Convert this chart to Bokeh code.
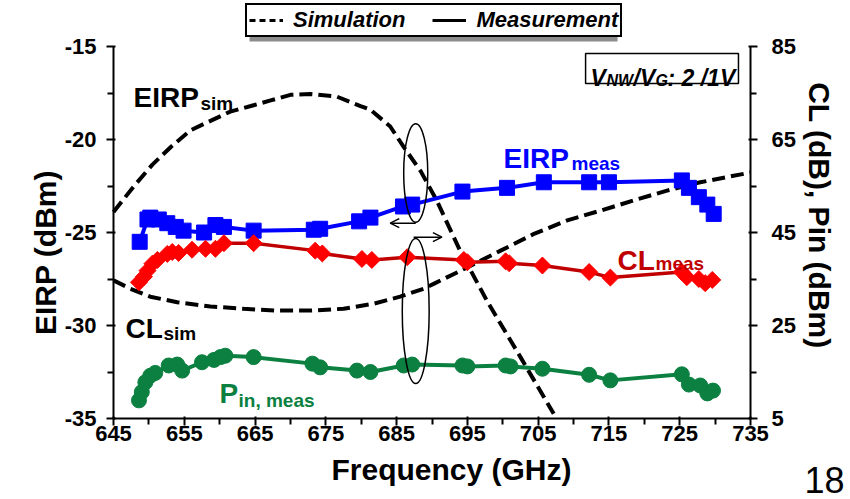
import math
from bokeh.plotting import figure
from bokeh.models import (Range1d, LinearAxis, FixedTicker, Label, Legend, LegendItem,
                          Arrow, OpenHead, BoxAnnotation)
from bokeh.embed import file_html
from bokeh.resources import INLINE

# ---------------- data ----------------
x_ticks = [645, 655, 665, 675, 685, 695, 705, 715, 725, 735]
x_minor = [650, 660, 670, 680, 690, 700, 710, 720, 730]
left_ticks = [-35, -30, -25, -20, -15]
left_tick_labels = ["-35", "-30", "-25", "-20", "-15"]
left_minor = [-32.5, -27.5, -22.5, -17.5]
right_ticks = [5, 25, 45, 65, 85]
right_minor = [15, 35, 55, 75]

eirp_meas_f = [648.7, 649.8, 650.2, 651.4, 652.6, 653.8, 654.9, 657.8, 659.4, 660.6, 664.8,
               673.3, 674.2, 679.7, 681.3, 685.9, 687.2, 694.3, 700.6, 705.8, 712.2, 715.0,
               725.3, 726.3, 727.7, 728.9, 729.8]
eirp_meas = [-25.5, -24.3, -24.2, -24.3, -24.5, -24.7, -24.9, -25.0, -24.6, -24.7, -24.9,
             -24.85, -24.8, -24.4, -24.2, -23.6, -23.5, -22.8, -22.6, -22.3, -22.3, -22.3,
             -22.2, -22.6, -23.1, -23.5, -24.0]

cl_meas_f = [648.6, 649.3, 649.8, 650.5, 651.2, 652.6, 653.3, 654.2, 656.1, 658.0, 659.4,
             660.6, 664.8, 673.5, 674.5, 680.1, 681.5, 686.5, 694.5, 695.0, 700.4, 700.9,
             705.6, 712.2, 715.2, 725.3, 726.0, 727.7, 728.6, 729.6]
cl_meas = [34.3, 35.5, 36.8, 38.3, 39.1, 40.4, 40.8, 40.6, 41.3, 41.5, 41.5,
           42.7, 42.7, 41.1, 40.5, 39.3, 39.1, 39.7, 39.1, 38.6, 38.8, 38.4,
           37.9, 36.5, 35.3, 36.5, 35.4, 35.0, 34.1, 34.8]

pin_meas_f = [648.6, 649.0, 649.5, 650.2, 650.9, 652.8, 654.0, 654.7, 657.5, 659.2, 660.1,
              660.8, 664.8, 673.1, 674.2, 679.4, 681.3, 686.0, 687.2, 694.3, 695.0, 700.4,
              701.1, 705.6, 712.2, 715.2, 725.3, 726.3, 727.9, 728.9, 729.7]
pin_meas = [8.9, 10.7, 12.8, 14.2, 14.8, 16.4, 16.6, 15.3, 17.1, 17.6, 18.2,
            18.5, 18.2, 16.8, 16.0, 15.3, 15.0, 16.4, 16.6, 16.4, 16.2, 16.4,
            16.2, 15.7, 14.4, 13.2, 14.5, 12.3, 12.1, 10.4, 11.0]

eirp_sim_f = [645.0, 647.9, 650.5, 653.1, 655.9, 658.7, 661.5, 664.4, 667.2, 670.0, 672.8,
              676.6, 679.9, 681.3, 684.1, 686.0, 688.4, 690.7, 692.4, 694.0, 697.8, 702.5, 707.2]
eirp_sim = [-23.9, -22.5, -21.35, -20.4, -19.5, -19.0, -18.5, -18.2, -17.9, -17.6, -17.55,
            -17.7, -18.2, -18.4, -19.3, -20.4, -21.7, -23.3, -24.7, -26.0, -28.7, -31.7, -34.75]

cl_sim_f = [645.0, 647.4, 650.2, 654.0, 658.7, 663.4, 668.1, 672.8, 677.5, 681.8, 685.5,
            688.8, 690.3, 695.0, 699.7, 704.4, 709.1, 713.8, 718.5, 723.2, 727.9, 735.0]
cl_sim = [34.7, 32.9, 31.2, 30.0, 29.1, 28.6, 28.2, 28.2, 28.6, 29.7, 31.2,
          32.9, 34.0, 37.5, 41.1, 44.7, 47.6, 49.7, 51.9, 54.0, 55.8, 57.9]

# ---------------- styles ----------------
FONT = "Liberation Sans"
BLUE = "#0000FF"
RED_M = "#FF0000"
RED_L = "#C00000"
GREEN = "#0B8040"
W, H = 850, 499
# axes box in page pixels: x 113..750 <-> 645..735, y 46..418 <-> top..bottom
PX_L, PX_R, PY_T, PY_B = 113, 750, 46, 418


def extend(lo, hi, p_lo, p_hi, size):
    """Range spanning the whole canvas such that [lo, hi] falls on pixels [p_lo, p_hi]."""
    k = (hi - lo) / (p_hi - p_lo)
    return lo - p_lo * k, hi + (size - p_hi) * k


xr = extend(645, 735, PX_L, PX_R, W)
yl = extend(-35, -15, H - PY_B, H - PY_T, H)
yr = extend(5, 85, H - PY_B, H - PY_T, H)

p = figure(width=W, height=H, x_range=Range1d(*xr), y_range=Range1d(*yl),
           output_backend="svg", toolbar_location=None,
           min_border_left=0, min_border_right=0, min_border_top=0, min_border_bottom=0)
p.extra_y_ranges = {"right": Range1d(*yr)}
p.outline_line_color = None
p.xgrid.visible = False
p.ygrid.visible = False
p.background_fill_color = "white"
p.border_fill_color = "white"

xaxis = p.xaxis[0]
laxis = p.yaxis[0]
raxis = LinearAxis(y_range_name="right")
p.add_layout(raxis, "right")

xaxis.fixed_location = -35
xaxis.bounds = (645, 735)
laxis.fixed_location = 645
laxis.bounds = (-35, -15)
raxis.fixed_location = 735
raxis.bounds = (5, 85)

xaxis.ticker = FixedTicker(ticks=x_ticks, minor_ticks=x_minor)
laxis.ticker = FixedTicker(ticks=left_ticks, minor_ticks=left_minor)
laxis.major_label_overrides = dict(zip(left_ticks, left_tick_labels))
raxis.ticker = FixedTicker(ticks=right_ticks, minor_ticks=right_minor)

for ax in [xaxis, laxis, raxis]:
    ax.axis_line_color = "black"
    ax.axis_line_width = 2
    ax.major_tick_line_color = "black"
    ax.major_tick_line_width = 2
    ax.minor_tick_line_color = "black"
    ax.minor_tick_line_width = 2
    ax.major_tick_out = 7
    ax.major_tick_in = 2
    ax.minor_tick_out = 6
    ax.minor_tick_in = 0
    ax.major_label_text_font = FONT
    ax.major_label_text_font_style = "bold"
    ax.major_label_text_font_size = "22px"
    ax.major_label_text_color = "black"
    ax.major_label_standoff = 10
xaxis.major_label_standoff = 0
raxis.major_label_standoff = 14

# ---------------- simulation curves ----------------
p.line(eirp_sim_f, eirp_sim, line_color="black", line_width=4, line_dash="13 6")
p.line(cl_sim_f, cl_sim, line_color="black", line_width=4, line_dash="13 6", y_range_name="right")

# ---------------- measurements ----------------
p.line(eirp_meas_f, eirp_meas, line_color=BLUE, line_width=4)
p.scatter(eirp_meas_f, eirp_meas, marker="square", size=15, fill_color=BLUE, line_color=BLUE)

p.line(cl_meas_f, cl_meas, line_color=RED_L, line_width=3.5, y_range_name="right")
p.scatter(cl_meas_f, cl_meas, marker="square", angle=math.pi / 4, size=12, fill_color=RED_M,
          line_color=RED_M, y_range_name="right")

p.line(pin_meas_f, pin_meas, line_color=GREEN, line_width=4, y_range_name="right")
p.scatter(pin_meas_f, pin_meas, marker="circle", size=15, fill_color=GREEN, line_color=GREEN,
          y_range_name="right")

# ---------------- ellipses & arrows ----------------
p.ellipse(x=[687.7], y=[-21.8], width=3.4, height=5.3, fill_color=None, line_color="black",
          line_width=1.5)
p.ellipse(x=[687.7], y=[-29.22], width=3.8, height=7.8, fill_color=None, line_color="black",
          line_width=1.5)
p.add_layout(Arrow(end=OpenHead(size=9, line_width=1.5), x_start=687.7, y_start=-24.5,
                   x_end=684.1, y_end=-24.5, line_width=1.5))
p.add_layout(Arrow(end=OpenHead(size=9, line_width=1.5), x_start=687.4, y_start=-25.25,
                   x_end=691.4, y_end=-25.25, line_width=1.5))

# ---------------- legend ----------------
# legend proxies: single-vertex lines draw nothing on the plot but give the legend its glyph
r_sim = p.line(eirp_sim_f[:1], eirp_sim[:1], line_color="black", line_width=3, line_dash="6 4")
r_meas = p.line(eirp_meas_f[:1], eirp_meas[:1], line_color="black", line_width=3)

p.add_layout(BoxAnnotation(left=249, right=617, top=H - 11, bottom=H - 41,
                           left_units="screen", right_units="screen",
                           top_units="screen", bottom_units="screen",
                           fill_color="#8c8c8c", fill_alpha=1, line_color=None))
legend = Legend(items=[LegendItem(label="Simulation", renderers=[r_sim]),
                       LegendItem(label="Measurement", renderers=[r_meas])],
                orientation="horizontal", location=(245, H - 37))
legend.label_text_font = FONT
legend.label_text_font_style = "bold italic"
legend.label_text_font_size = "22px"
legend.label_text_color = "black"
legend.border_line_color = "black"
legend.border_line_width = 2
legend.border_line_alpha = 1
legend.background_fill_color = "white"
legend.background_fill_alpha = 1
legend.padding = 2
legend.spacing = 27
legend.glyph_width = 34
legend.glyph_height = 20
legend.label_standoff = 10
legend.label_height = 20
legend.margin = 0
p.add_layout(legend, "center")


def lab(text, X, Y, size, color="black", style="bold", angle=0.0, align="left"):
    p.add_layout(Label(x=X, y=H - Y, x_units="screen", y_units="screen", text=text,
                       angle=angle, text_font=FONT, text_font_size=f"{size}px",
                       text_font_style=style, text_color=color,
                       text_baseline="alphabetic", text_align=align))


# axis titles
lab("Frequency (GHz)", 451, 469, 30, align="center")
lab("EIRP (dBm)", 45, 252, 30, angle=math.pi / 2, align="center")
lab("CL (dB), Pin (dBm)", 819, 215, 30, angle=-math.pi / 2, align="center")

# V_NW / V_G box
p.add_layout(BoxAnnotation(left=711.7, right=733.3, top=-15.38, bottom=-16.99,
                           fill_color="white", fill_alpha=1, line_color="black",
                           line_width=1.5, line_alpha=1))
lab("V", 590, 77, 23, style="bold italic")
lab("NW", 606, 80, 16, style="bold italic")
lab("/V", 633, 77, 23, style="bold italic")
lab("G", 655, 80, 16, style="bold italic")
lab(": 2 /1V", 667, 77, 23, style="bold italic")

# curve labels
lab("EIRP", 133, 97, 28)
lab("sim", 200, 103, 19)
lab("EIRP", 503, 158, 28, BLUE)
lab("meas", 571, 163, 19, BLUE)
lab("CL", 617, 260, 28, RED_L)
lab("meas", 655, 263, 19, RED_L)
lab("CL", 125, 328, 28)
lab("sim", 163, 333, 19)
lab("P", 219, 393, 28, GREEN)
lab("in, meas", 238, 400, 19, GREEN)

# slide number
lab("18", 804, 479, 36, style="normal")

open("out.html", "w").write(file_html(p, INLINE))
